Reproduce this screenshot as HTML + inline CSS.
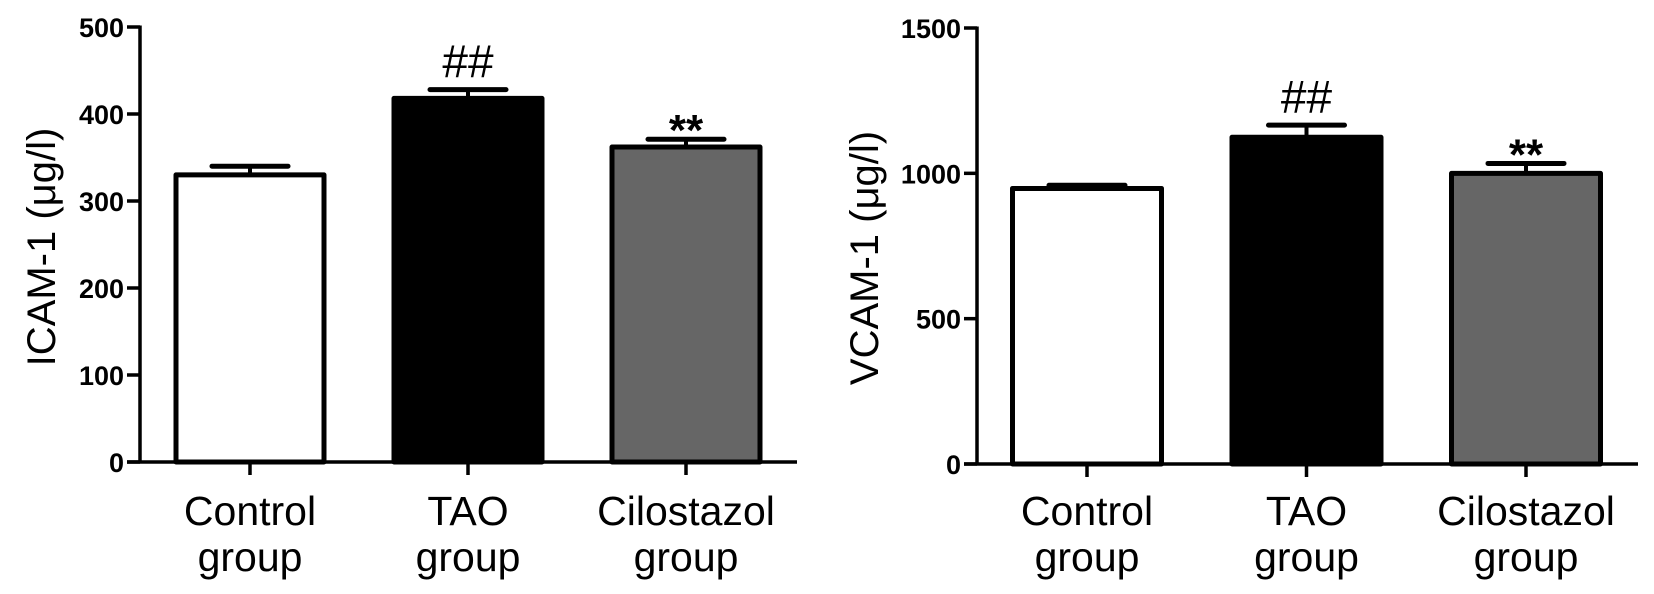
<!DOCTYPE html>
<html><head><meta charset="utf-8"><style>
html,body{margin:0;padding:0;background:#fff;}
svg{display:block;}
text{font-family:"Liberation Sans",Arial,sans-serif;fill:#000;}
</style></head><body>
<svg id="chart" width="1654" height="594" viewBox="0 0 1654 594" xmlns="http://www.w3.org/2000/svg"></svg>
<script>
const categories = ["Control|group", "TAO|group", "Cilostazol|group"];
const icamValues = [330, 418, 362];
const icamErrors = [10, 10, 9];
const icamTicks = [0, 100, 200, 300, 400, 500];
const icamMarks = ["", "##", "**"];
const vcamValues = [948, 1124, 1000];
const vcamErrors = [11, 42, 34];
const vcamTicks = [0, 500, 1000, 1500];
const vcamMarks = ["", "##", "**"];
const fills = ["#ffffff", "#000000", "#666666"];

const NS = "http://www.w3.org/2000/svg";
const svg = document.getElementById("chart");
function mk(tag, attrs, parent) {
  const e = document.createElementNS(NS, tag);
  for (const k in attrs) e.setAttribute(k, attrs[k]);
  (parent || svg).appendChild(e);
  return e;
}

function drawPanel(cfg) {
  const g = mk("g", {});
  
  
  const yS = v => cfg.y0 - (v / cfg.max) * (cfg.y0 - cfg.yTop);
  const xC = i => cfg.c0 + i * cfg.step;
  cfg.values.forEach((v, i) => {
    const x = xC(i) - cfg.bw / 2;
    const ey = yS(v + cfg.errors[i]);
    const err = mk("g", {}, g);
    
    
    mk("line", {x1: xC(i), x2: xC(i), y1: yS(v), y2: ey, stroke: "#000", "stroke-width": 4}, err);
    mk("line", {x1: xC(i) - 38, x2: xC(i) + 38, y1: ey, y2: ey, stroke: "#000", "stroke-width": 5, "stroke-linecap": "round"}, err);
    const r = mk("rect", {x: x, y: yS(v), width: cfg.bw, height: cfg.y0 - yS(v), fill: fills[i], stroke: "#000", "stroke-width": 5, "stroke-linejoin": "round"}, g);
    
    
    if (cfg.marks[i]) {
      const isStar = cfg.marks[i] === "**";
      const t = mk("text", {x: xC(i), y: isStar ? ey + 6 : ey - 12, "text-anchor": "middle", "font-size": isStar ? 44 : 46, "font-weight": isStar ? "bold" : "normal"}, g);
      t.textContent = cfg.marks[i];
      
      
    }
  });
  const ya = mk("line", {x1: cfg.ax, x2: cfg.ax, y1: cfg.yTop - 1.5, y2: cfg.y0 + 1.5, stroke: "#000", "stroke-width": 3.5}, g);
  
  
  const xa = mk("line", {x1: cfg.ax - 13, x2: cfg.xEnd, y1: cfg.y0, y2: cfg.y0, stroke: "#000", "stroke-width": 3.5}, g);
  
  
  cfg.ticks.forEach(t => {
    const y = yS(t);
    mk("line", {x1: cfg.ax - 13, x2: cfg.ax, y1: y, y2: y, stroke: "#000", "stroke-width": 3.5}, g);
    const tl = mk("text", {x: cfg.ax - 16, y: y + 10, "text-anchor": "end", "font-size": 27, "font-weight": "bold"}, g);
    tl.textContent = t;
    
    
  });
  categories.forEach((c, i) => {
    mk("line", {x1: xC(i), x2: xC(i), y1: cfg.y0, y2: cfg.y0 + 13, stroke: "#000", "stroke-width": 3.5}, g);
    const parts = c.split("|");
    const t = mk("text", {x: xC(i), y: 525, "text-anchor": "middle", "font-size": 41}, g);
    
    
    const s1 = mk("tspan", {x: xC(i), y: 525}, t); s1.textContent = parts[0];
    const s2 = mk("tspan", {x: xC(i), y: 571}, t); s2.textContent = parts[1];
  });
  const yt = mk("text", {x: 0, y: 0, "text-anchor": "middle", "font-size": 40, transform: "translate(" + cfg.titleX + "," + cfg.titleY + ") rotate(-90)"}, g);
  yt.textContent = cfg.title;
  
  
}

drawPanel({name: "icam-panel", values: icamValues, errors: icamErrors, ticks: icamTicks, marks: icamMarks,
  max: 500, y0: 462, yTop: 27, ax: 140, xEnd: 797, c0: 250, step: 218, bw: 148,
  title: "ICAM-1 (μg/l)", titleX: 55, titleY: 247});
drawPanel({name: "vcam-panel", values: vcamValues, errors: vcamErrors, ticks: vcamTicks, marks: vcamMarks,
  max: 1500, y0: 464, yTop: 28, ax: 977, xEnd: 1638, c0: 1087, step: 219.5, bw: 149,
  title: "VCAM-1 (μg/l)", titleX: 878, titleY: 258});
</script>
</body></html>
